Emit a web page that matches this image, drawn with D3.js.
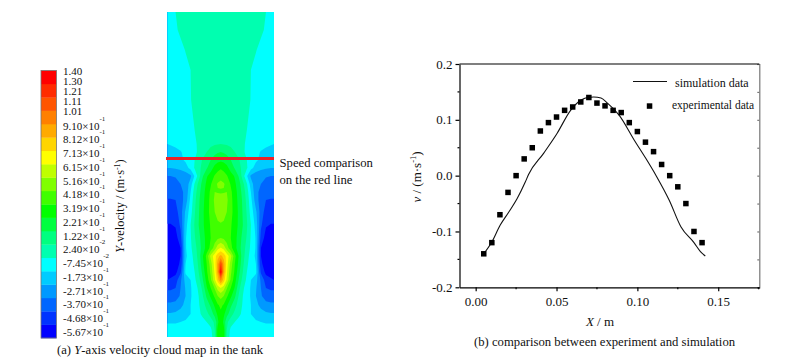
<!DOCTYPE html>
<html>
<head>
<meta charset="utf-8">
<script src="https://cdn.jsdelivr.net/npm/d3@7.9.0/dist/d3.min.js"></script>
<style>
  body { margin: 0; background: #fff; }
  svg { display: block; }
  text { font-family: "Liberation Serif", serif; fill: #111; }
  .axis text { font-size: 13px; font-family: "Liberation Serif", serif; fill: #111; }
  .axis path, .axis line { stroke: #000; stroke-width: 1.2; }
  .axis-right path, .axis-right line { stroke: #777; stroke-width: 1.2; }
</style>
</head>
<body>
<svg id="chart" width="789" height="360"></svg>
<script>
// legend of the cloud map, bottom to top
const legendMantissas = ['-5.67', '-4.68', '-3.70', '-2.71', '-1.73', '-7.45', '2.40', '1.22', '2.21', '3.19',
  '4.18', '5.16', '6.15', '7.13', '8.12', '9.10', '1.01', '1.11', '1.21', '1.30', '1.40'];
const legendExponents = ['-1', '-1', '-1', '-1', '-1', '-2', '-2', '-1', '-1', '-1',
  '-1', '-1', '-1', '-1', '-1', '-1', '', '', '', '', ''];
const bandColors = ['#0000ff', '#0033ff', '#0066ff', '#0099ff', '#00ccff', '#00ffff', '#00ffb0', '#00ff80',
  '#00ff40', '#00ff00', '#40ff00', '#80ff00', '#bfff00', '#ffff00', '#ffd500', '#ffaa00', '#ff8000',
  '#ff5500', '#ff2b00', '#ff0000'];

// tank field, read as legend level at each grid point, centre line to wall
const columnOffsets = [0, 3, 6, 10, 14, 18, 22, 26, 30, 35, 40, 45, 50, 53];
const rowDepths = [0, 18, 38, 58, 88, 118, 132, 140, 148, 156, 164, 172, 180, 188, 200, 213, 226, 236, 244,
  252, 260, 268, 276, 284, 293, 302, 310, 318, 325];
const levelRows = [
  [6.6, 6.6, 6.6, 6.6, 6.6, 6.6, 6.6, 6.6, 6.6, 6.5, 6.3, 6.0, 5.6, 5.5],
  [6.6, 6.6, 6.6, 6.6, 6.6, 6.6, 6.6, 6.6, 6.6, 6.5, 6.2, 5.85, 5.5, 5.4],
  [6.6, 6.6, 6.6, 6.6, 6.6, 6.6, 6.6, 6.6, 6.4, 6.05, 5.7, 5.5, 5.4, 5.3],
  [6.6, 6.6, 6.6, 6.6, 6.6, 6.6, 6.6, 6.35, 6.0, 5.7, 5.5, 5.4, 5.3, 5.3],
  [6.6, 6.6, 6.6, 6.6, 6.6, 6.6, 6.6, 6.35, 5.95, 5.65, 5.45, 5.35, 5.3, 5.3],
  [6.6, 6.6, 6.6, 6.6, 6.6, 6.6, 6.35, 6.0, 5.75, 5.5, 5.4, 5.3, 5.2, 5.2],
  [7.0, 6.95, 6.9, 6.8, 6.6, 6.4, 6.15, 5.85, 5.6, 5.4, 5.3, 5.15, 5.05, 5.0],
  [8.0, 7.9, 7.7, 7.35, 7.0, 6.6, 6.15, 5.8, 5.55, 5.2, 4.95, 4.8, 4.7, 4.7],
  [8.8, 8.7, 8.5, 8.0, 7.5, 7.1, 6.5, 6.0, 5.5, 5.15, 4.8, 4.5, 4.3, 4.3],
  [9.9, 9.7, 9.3, 8.6, 7.9, 7.3, 6.7, 6.1, 5.3, 4.6, 4.3, 4.1, 4.0, 4.0],
  [10.6, 10.4, 10.1, 9.4, 8.9, 7.9, 6.5, 5.1, 3.8, 3.4, 3.15, 3.05, 3.0, 3.0],
  [11.3, 11.1, 10.7, 9.9, 9.2, 8.4, 7.3, 6.1, 4.5, 3.3, 3.0, 2.8, 2.75, 2.75],
  [10.8, 10.9, 11.0, 10.2, 9.4, 8.6, 7.6, 6.5, 5.0, 3.2, 2.8, 2.4, 2.3, 2.3],
  [11.8, 11.7, 11.2, 10.3, 9.5, 8.7, 7.8, 6.7, 5.3, 3.4, 2.6, 2.0, 1.95, 1.95],
  [11.5, 11.4, 11.0, 10.3, 9.6, 8.8, 7.9, 6.9, 5.6, 4.2, 2.5, 1.6, 1.45, 1.45],
  [10.9, 10.8, 10.5, 10.1, 9.5, 8.8, 8.0, 7.1, 6.0, 4.6, 2.2, 1.1, 0.95, 0.95],
  [11.0, 10.8, 10.5, 10.0, 9.4, 8.5, 7.7, 6.9, 5.9, 4.9, 1.6, 0.6, 0.5, 0.5],
  [13.1, 12.6, 11.5, 10.3, 9.4, 8.4, 7.5, 6.6, 5.8, 4.9, 1.0, 0.4, 0.4, 0.4],
  [15.3, 14.6, 13.6, 12.3, 10.3, 8.9, 7.4, 6.4, 5.6, 4.8, 1.0, 0.4, 0.4, 0.4],
  [18.0, 15.5, 13.5, 11.5, 10.0, 8.7, 7.2, 6.2, 5.5, 5.0, 1.2, 0.5, 0.5, 0.5],
  [19.7, 15.5, 13.2, 11.2, 9.8, 8.3, 7.0, 6.0, 5.5, 5.2, 1.8, 0.7, 0.7, 0.7],
  [16.3, 14.5, 12.8, 10.8, 9.4, 7.9, 6.6, 5.8, 5.0, 4.4, 2.8, 1.5, 1.1, 1.0],
  [13.0, 12.4, 11.1, 10.0, 8.9, 7.3, 6.2, 5.5, 4.9, 4.1, 3.0, 2.0, 1.8, 1.8],
  [11.4, 11.0, 10.2, 9.2, 8.2, 6.9, 6.0, 5.4, 4.9, 4.0, 3.1, 2.6, 2.5, 2.5],
  [10.2, 9.9, 9.2, 8.2, 7.4, 6.5, 5.9, 5.4, 5.0, 4.3, 3.7, 3.3, 3.2, 3.2],
  [9.8, 9.2, 8.4, 7.4, 6.7, 6.2, 5.8, 5.4, 5.0, 4.7, 4.4, 4.2, 4.1, 4.1],
  [10.0, 8.7, 7.2, 6.5, 6.0, 5.7, 5.5, 5.4, 5.3, 5.1, 5.0, 4.9, 4.9, 4.9],
  [9.8, 9.4, 7.0, 5.7, 5.5, 5.4, 5.4, 5.4, 5.4, 5.4, 5.4, 5.4, 5.4, 5.4],
  [9.8, 9.4, 6.8, 5.5, 5.4, 5.4, 5.4, 5.4, 5.4, 5.4, 5.4, 5.4, 5.4, 5.4]
];

// comparison plot
const expX = [0.005, 0.01, 0.015, 0.02, 0.025, 0.03, 0.035, 0.04, 0.045, 0.05, 0.055, 0.06, 0.065, 0.07, 0.075,
  0.08, 0.085, 0.09, 0.095, 0.10, 0.105, 0.11, 0.115, 0.12, 0.125, 0.13, 0.135, 0.14];
const expV = [-0.14, -0.12, -0.07, -0.03, 0.0, 0.03, 0.05, 0.08, 0.095, 0.105, 0.117, 0.123, 0.132, 0.14, 0.13,
  0.125, 0.117, 0.113, 0.095, 0.079, 0.06, 0.043, 0.02, 0.0, -0.02, -0.05, -0.10, -0.12];
const simX = [0.005, 0.01, 0.0151, 0.0203, 0.0255, 0.0306, 0.0327, 0.042, 0.0504, 0.0587, 0.065, 0.069, 0.073,
  0.0775, 0.0815, 0.0888, 0.098, 0.105, 0.1116, 0.1197, 0.127, 0.135, 0.139, 0.142];
const simV = [-0.14, -0.119, -0.089, -0.066, -0.042, -0.012, 0.002, 0.04, 0.076, 0.117, 0.135, 0.14, 0.141,
  0.139, 0.13, 0.108, 0.064, 0.032, 0.0, -0.044, -0.092, -0.12, -0.136, -0.144];
const xTicks = [0, 0.05, 0.10, 0.15];
const xTickLabels = ['0.00', '0.05', '0.10', '0.15'];
const xMinor = [0.025, 0.075, 0.125, 0.175];
const yTicks = [0.2, 0.1, 0, -0.1, -0.2];
const yTickLabels = ['0.2', '0.1', '0.0', '-0.1', '-0.2'];
const yMinor = [0.15, 0.05, -0.05, -0.15];

const svg = d3.select('#chart');

// ---- colour bar ----
const barY = d3.scaleBand().domain(d3.range(20).reverse()).range([70.5, 338]).paddingInner(0);
svg.append('g').selectAll('rect').data(bandColors).join('rect')
  .attr('x', 41).attr('width', 15.5)
  .attr('y', (d, i) => barY(i)).attr('height', barY.bandwidth() + 0.3)
  .attr('fill', d => d);
svg.append('rect').attr('x', 41).attr('y', 70.5).attr('width', 15.5).attr('height', 267.5)
  .attr('fill', 'none').attr('stroke', '#777').attr('stroke-width', 0.8);

// labels are tighter in the top five rows
const labelY = d3.scaleLinear().domain([0, 15, 16, 20]).range([336, 129.5, 115, 75]);
const legendLabels = svg.append('g').selectAll('text').data(legendMantissas).join('text')
  .attr('x', 63).attr('y', (d, i) => labelY(i)).attr('font-size', 11);
legendLabels.each(function (d, i) {
  const t = d3.select(this);
  if (legendExponents[i]) {
    t.append('tspan').text(`${d}×10`);
    t.append('tspan').attr('font-size', 7).attr('dy', -9).text(legendExponents[i]);
  } else {
    t.text(d);
  }
});

const yTitle = svg.append('text')
  .attr('transform', 'translate(124,206) rotate(-90)')
  .attr('text-anchor', 'middle').attr('font-size', 12.3);
yTitle.append('tspan').attr('font-style', 'italic').text('Y');
yTitle.append('tspan').text('-velocity / (m·s');
yTitle.append('tspan').attr('font-size', 8).attr('dy', -4).text('-1');
yTitle.append('tspan').attr('dy', 4).text(')');

// ---- tank field ----
const tankOffset = d3.scaleLinear().domain([-53, 53]).range([167.5, 274]);
const tankDepth = d3.scaleLinear().domain([0, 325]).range([12, 337]);
const fullOffsets = [...columnOffsets.slice(1).reverse().map(d => -d), ...columnOffsets];
const flatLevels = levelRows.flatMap(row => [...row.slice(1).reverse(), ...row]);

const gridX = d3.scaleLinear().domain(fullOffsets.map((d, i) => i + 0.5)).range(fullOffsets.map(tankOffset)).clamp(true);
const gridY = d3.scaleLinear().domain(rowDepths.map((d, i) => i + 0.5)).range(rowDepths.map(tankDepth)).clamp(true);

const contours = d3.contours().size([fullOffsets.length, rowDepths.length]).thresholds(d3.range(0, 20))(flatLevels);
const gridPath = d3.geoPath(d3.geoTransform({
  point(x, y) { this.stream.point(gridX(x), gridY(y)); }
}));
svg.append('g').selectAll('path').data(contours).join('path')
  .attr('d', gridPath)
  .attr('fill', d => bandColors[d.value]);

// the line where the speed was compared
svg.append('line')
  .attr('x1', tankOffset(-54.5)).attr('x2', tankOffset(53))
  .attr('y1', tankDepth(146.5)).attr('y2', tankDepth(146.5))
  .attr('stroke', '#e8222c').attr('stroke-width', 3);
svg.append('text').attr('x', 279.5).attr('y', 167).attr('font-size', 12.7).text('Speed comparison');
svg.append('text').attr('x', 279.5).attr('y', 184).attr('font-size', 12.7).text('on the red line');

const capA = svg.append('text').attr('x', 57).attr('y', 354).attr('font-size', 12.7);
capA.append('tspan').text('(a) ');
capA.append('tspan').attr('font-style', 'italic').text('Y');
capA.append('tspan').text('-axis velocity cloud map in the tank');

// ---- comparison plot ----
const x = d3.scaleLinear().domain([-0.01, 0.1754]).range([459.5, 759.3]);
const y = d3.scaleLinear().domain([-0.2, 0.2]).range([287.3, 64]);

svg.append('g').attr('class', 'axis-right')
  .attr('transform', `translate(${x.range()[1]},0)`)
  .call(d3.axisRight(y).tickValues([...yTicks, ...yMinor]).tickSize(-2).tickFormat(''));
svg.append('line')
  .attr('x1', x.range()[0]).attr('x2', x.range()[1]).attr('y1', y(0.2)).attr('y2', y(0.2))
  .attr('stroke', '#000').attr('stroke-width', 1.2);

const bottom = svg.append('g').attr('class', 'axis').attr('transform', `translate(0,${y(-0.2)})`);
bottom.call(d3.axisBottom(x).tickValues(xTicks).tickSize(4).tickSizeOuter(0).tickPadding(5)
  .tickFormat((d, i) => xTickLabels[i]));
bottom.append('g').selectAll('line').data(xMinor).join('line')
  .attr('x1', d => x(d)).attr('x2', d => x(d)).attr('y2', 2);

const left = svg.append('g').attr('class', 'axis').attr('transform', `translate(${x(-0.01)},0)`);
left.call(d3.axisLeft(y).tickValues(yTicks).tickSize(4).tickSizeOuter(0).tickPadding(3)
  .tickFormat((d, i) => yTickLabels[i]));
left.append('g').selectAll('line').data(yMinor).join('line')
  .attr('y1', d => y(d)).attr('y2', d => y(d)).attr('x2', -2);

const simLine = d3.line().x((d, i) => x(simX[i])).y(d => y(d)).curve(d3.curveMonotoneX);
svg.append('path').attr('d', simLine(simV)).attr('fill', 'none').attr('stroke', '#111').attr('stroke-width', 1.1);

svg.append('g').selectAll('rect').data(expV).join('rect')
  .attr('x', (d, i) => x(expX[i]) - 2.75).attr('y', d => y(d) - 2.75)
  .attr('width', 5.5).attr('height', 5.5).attr('fill', '#000');

// legend
svg.append('line').attr('x1', 633).attr('x2', 667).attr('y1', 81.5).attr('y2', 81.5)
  .attr('stroke', '#111').attr('stroke-width', 1.1);
svg.append('text').attr('x', 675).attr('y', 87).attr('font-size', 12).text('simulation data');
svg.append('rect').attr('x', 646.8).attr('y', 103.3).attr('width', 5.5).attr('height', 5.5).attr('fill', '#000');
svg.append('text').attr('x', 672).attr('y', 109).attr('font-size', 11.5).text('experimental data');

const xTitle = svg.append('text').attr('x', 600).attr('y', 326).attr('text-anchor', 'middle').attr('font-size', 13);
xTitle.append('tspan').attr('font-style', 'italic').text('X');
xTitle.append('tspan').text(' / m');

const vTitle = svg.append('text').attr('transform', 'translate(421,177) rotate(-90)')
  .attr('text-anchor', 'middle').attr('font-size', 13);
vTitle.append('tspan').attr('font-style', 'italic').text('v');
vTitle.append('tspan').text(' / (m·s');
vTitle.append('tspan').attr('font-size', 8.5).attr('dy', -5).text('-1');
vTitle.append('tspan').attr('dy', 5).text(')');

svg.append('text').attr('x', 474).attr('y', 346).attr('font-size', 12.7).text('(b) comparison between experiment and simulation');
</script>
</body>
</html>
